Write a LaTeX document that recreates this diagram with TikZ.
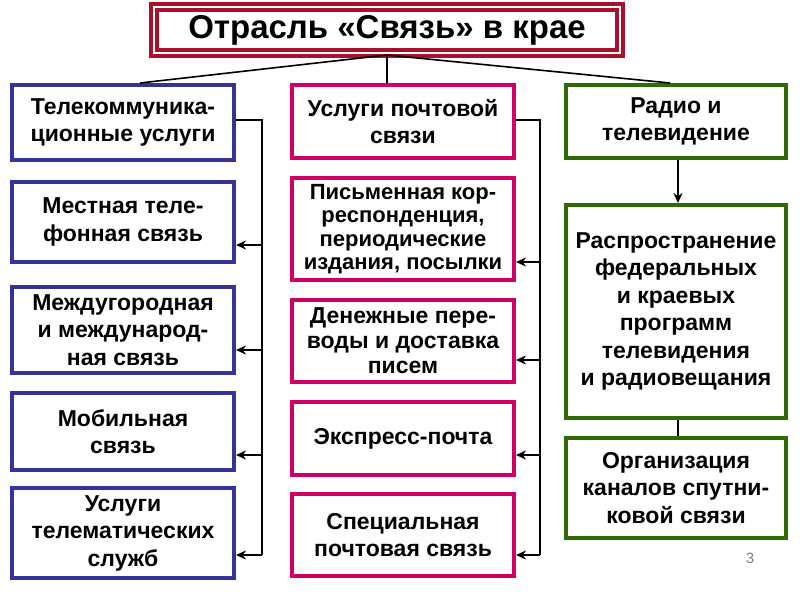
\documentclass[tikz,border=0pt]{standalone}
\usepackage{fontspec}
\setmainfont{Liberation Sans}
\usetikzlibrary{arrows.meta}
\definecolor{bl}{HTML}{33339A}
\definecolor{mg}{HTML}{CC0066}
\definecolor{gr}{HTML}{2F6A05}
\definecolor{tr}{HTML}{A8102C}
\tikzset{
 box/.style={draw, line width=4pt, fill=white, align=center, font=\fontsize{23}{27.5}\selectfont\bfseries, inner sep=0pt},
 lb/.style={box, draw=bl}, cb/.style={box, draw=mg}, rb/.style={box, draw=gr},
 ln/.style={line width=1.6pt},
 ar/.style={ln, -{Stealth[length=10pt,width=9pt]}}
}
\begin{document}
\begin{tikzpicture}[x=1pt,y=-1pt]
\useasboundingbox (0,0) rectangle (800,600);
\node[draw=tr, line width=4pt, double=white, double distance=1.2pt, minimum width=466pt, minimum height=46pt, inner sep=0pt, font=\fontsize{33}{35}\selectfont\bfseries] (t) at (387,30) {Отрасль «Связь» в крае};
\coordinate (tb) at (387,55);
% left
\node[lb, minimum width=222pt, minimum height=75pt] (l1) at (123,122.5) {Телекоммуника-\\ционные услуги};
\node[lb, minimum width=222pt, minimum height=80pt] (l2) at (123,222) {Местная теле-\\фонная связь};
\node[lb, minimum width=222pt, minimum height=86pt] (l3) at (123,330) {Междугородная\\и международ-\\ная связь};
\node[lb, minimum width=222pt, minimum height=77pt] (l4) at (123,431.5) {Мобильная\\связь};
\node[lb, minimum width=222pt, minimum height=90pt] (l5) at (123,533) {Услуги\\телематических\\служб};
% center
\node[cb, minimum width=222pt, minimum height=73pt] (c1) at (403,121.5) {Услуги почтовой\\связи};
\node[cb, minimum width=222pt, minimum height=102pt, font=\fontsize{22}{23.5}\selectfont\bfseries] (c2) at (403,229) {Письменная кор-\\респонденция,\\периодические\\издания, посылки};
\node[cb, minimum width=222pt, minimum height=82pt, font=\fontsize{23}{25}\selectfont\bfseries] (c3) at (403,341) {Денежные пере-\\воды и доставка\\писем};
\node[cb, minimum width=222pt, minimum height=73pt] (c4) at (403,438.5) {Экспресс-почта};
\node[cb, minimum width=222pt, minimum height=82pt] (c5) at (403,535) {Специальная\\почтовая связь};
% right
\node[rb, minimum width=220pt, minimum height=213pt] (r2) at (676,311.5) {Распространение\\федеральных\\и краевых\\программ\\телевидения\\и радиовещания};
\node[rb, minimum width=220pt, minimum height=73pt] (r1) at (676,121.5) {Радио и\\телевидение};
\node[rb, minimum width=220pt, minimum height=100pt] (r3) at (676,488) {Организация\\каналов спутни-\\ковой связи};
% title links
\draw[ln] (t.south) -- (tb);
\draw[ln] (tb) -- (140,83);
\draw[ln] (tb) -- (c1.north -| 387,0);
\draw[ln] (tb) -- (670,83);
% left bus
\coordinate (lx) at (262,120);
\draw[ln] (l1.east |- lx) -- (lx) -- (262,555);
\foreach \n/\y in {l2/245,l3/350,l4/455,l5/555}
  \draw[ar] (262,\y) -- (\n.east |- 0,\y);
% center bus
\coordinate (cx) at (540,120);
\draw[ln] (c1.east |- cx) -- (cx) -- (540,555);
\foreach \n/\y in {c2/262,c3/360,c4/455,c5/555}
  \draw[ar] (540,\y) -- (\n.east |- 0,\y);
% right
\draw[ar] (r1.south -| 678,0) -- (r2.north -| 678,0);
\draw[ln] (r2.south -| 678,0) -- (r3.north -| 678,0);
\node[font=\fontsize{15}{17}\selectfont, text=gray] (pg) at (750,558) {3};
\end{tikzpicture}
\end{document}
